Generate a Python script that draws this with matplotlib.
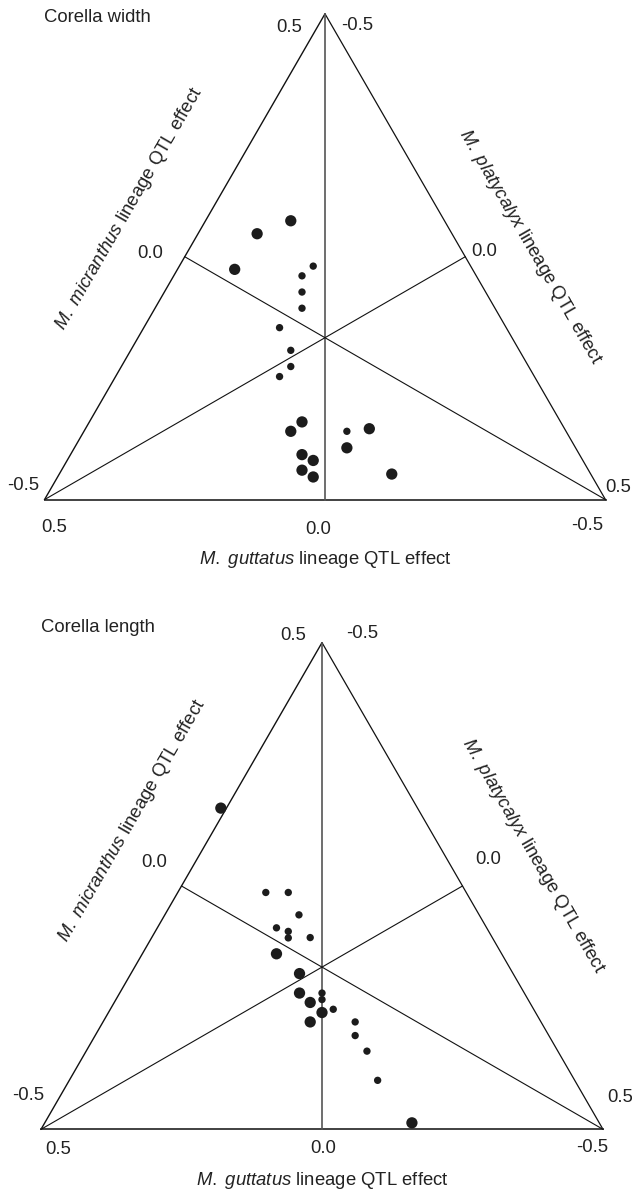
import matplotlib
matplotlib.use("Agg")
import numpy as np
import matplotlib.pyplot as plt

plt.rcParams['font.family'] = ['Liberation Sans', 'DejaVu Sans']
plt.rcParams['mathtext.fontset'] = 'custom'
plt.rcParams['mathtext.rm'] = 'Liberation Sans'
plt.rcParams['mathtext.it'] = 'Liberation Sans:italic'

# ---------------- data (QTL effects) ----------------
# Corella width
width_guttatus   = [0.061, 0.121, 0.161, 0.041, 0.061, -0.079, -0.039, 0.041, 0.021, 0.041, 0.021, -0.119,
                    0.021, 0.041, 0.041, 0.041, 0.081, 0.061, 0.061, 0.081, -0.039]
width_micranthus = [0.150, 0.100, 0.025, -0.150, -0.175, -0.101, -0.151, -0.201, -0.200, -0.225, -0.225, -0.151,
                    0.100, 0.075, 0.050, 0.025, -0.025, -0.050, -0.075, -0.100, -0.125]
width_platycalyx = [-0.211, -0.221, -0.186, 0.110, 0.114, 0.180, 0.189, 0.160, 0.179, 0.184, 0.205, 0.270,
                    -0.121, -0.116, -0.091, -0.066, -0.056, -0.011, 0.014, 0.020, 0.164]
width_class      = ['L'] * 12 + ['S'] * 9

# Corella length
length_guttatus   = [0.180, 0.081, 0.040, 0.040, 0.021, 0.000, 0.021, -0.160,
                     0.100, 0.060, 0.041, 0.081, 0.060, 0.060, 0.021, 0.000, 0.000, -0.020, -0.059, -0.059, -0.080, -0.099]
length_micranthus = [0.155, -0.020, -0.030, -0.060, -0.065, -0.070, -0.095, -0.160,
                     0.065, 0.085, 0.060, 0.020, 0.025, 0.015, 0.035, -0.040, -0.050, -0.055, -0.055, -0.076, -0.090, -0.125]
length_platycalyx = [-0.335, -0.061, -0.010, 0.020, 0.044, 0.070, 0.074, 0.320,
                     -0.165, -0.145, -0.101, -0.101, -0.085, -0.075, -0.056, 0.040, 0.050, 0.075, 0.114, 0.135, 0.169, 0.224]
length_class      = ['L'] * 8 + ['S'] * 14

panel_titles = ["Corella width", "Corella length"]
axis_ticks = ["0.5", "0.0", "-0.5"]
lab_gutt = r"$\it{M.\ guttatus}$ lineage QTL effect"
lab_micr = r"$\it{M.\ micranthus}$ lineage QTL effect"
lab_plat = r"$\it{M.\ platycalyx}$ lineage QTL effect"

# ---------------- layout ----------------
W, H = 632, 1197
FS = 13.3
fig = plt.figure(figsize=(W / 100, H / 100), dpi=100)

SQ3 = np.sqrt(3.0)
hgt = SQ3 / 2
T = (0.0, 2 * hgt / 3)
L = (-0.5, -hgt / 3)
R = (0.5, -hgt / 3)


def panel(top_px, bot_px, cx, cy, s, g, m, p, cls, title, tpos):
    ax = fig.add_axes([0, 1 - bot_px / H, 1, (bot_px - top_px) / H])
    ax.set_xlim((0 - cx) / s, (W - cx) / s)
    ax.set_ylim((cy - bot_px) / s, (cy - top_px) / s)
    ax.axis('off')

    def d(px, py):
        return ((px - cx) / s, (cy - py) / s)

    # triangle outline
    ax.plot([L[0], T[0]], [L[1], T[1]], color='#111111', lw=1.0, solid_capstyle='round')
    ax.plot([T[0], R[0]], [T[1], R[1]], color='#111111', lw=0.9, solid_capstyle='round')
    ax.plot([L[0], R[0]], [L[1], R[1]], color='#333333', lw=1.3)
    # medians
    ax.plot([T[0], 0.0], [T[1], -hgt / 3], color='#555555', lw=1.2)
    ax.plot([L[0], 0.25], [L[1], hgt / 6], color='#111111', lw=0.8)
    ax.plot([R[0], -0.25], [R[1], hgt / 6], color='#111111', lw=0.8)

    g = np.asarray(g); m = np.asarray(m); p = np.asarray(p)
    x = -g
    y = (m - p) / SQ3
    sizes = np.array([66 if c == 'L' else 28 for c in cls])
    ax.scatter(x, y, s=sizes, color='#1c1c1c', linewidths=0, zorder=5, clip_on=False)

    kw = dict(fontsize=FS, color='#222222', ha='center', va='center', clip_on=False)
    ax.text(*d(*tpos['title']), title, fontsize=FS, color='#222222', ha='left', va='center')
    ax.text(*d(*tpos['top_l']), axis_ticks[0], **kw)
    ax.text(*d(*tpos['top_r']), axis_ticks[2], **kw)
    ax.text(*d(*tpos['mid_l']), axis_ticks[1], **kw)
    ax.text(*d(*tpos['mid_r']), axis_ticks[1], **kw)
    ax.text(*d(*tpos['bl_up']), axis_ticks[2], **kw)
    ax.text(*d(*tpos['bl_dn']), axis_ticks[0], **kw)
    ax.text(*d(*tpos['br_up']), axis_ticks[0], **kw)
    ax.text(*d(*tpos['br_dn']), axis_ticks[2], **kw)
    ax.text(*d(*tpos['bot_c']), axis_ticks[1], **kw)
    ax.text(*d(*tpos['gutt']), lab_gutt, **kw)
    ax.text(*d(*tpos['micr']), lab_micr, rotation=60, rotation_mode='anchor', **kw)
    ax.text(*d(*tpos['plat']), lab_plat, rotation=-60, rotation_mode='anchor', **kw)


pos1 = dict(title=(44, 17), top_l=(289, 27), top_r=(357.5, 25.5), mid_l=(150, 253), mid_r=(484, 251),
            bl_up=(23, 485), bl_dn=(54, 528), br_up=(618.5, 488), br_dn=(587.5, 525), bot_c=(318, 529),
            gutt=(325, 559), micr=(129.5, 209), plat=(530.5, 247))
pos2 = dict(title=(41, 628), top_l=(293.5, 635.7), top_r=(362.5, 634), mid_l=(154, 862.5), mid_r=(488, 859.5),
            bl_up=(28, 1095), bl_dn=(58.3, 1150), br_up=(620, 1097), br_dn=(592, 1147), bot_c=(323, 1148.3),
            gutt=(322, 1180.7), micr=(132, 820.6), plat=(533.3, 855.7))

panel(0, 598, 325, 337.7, 561, width_guttatus, width_micranthus, width_platycalyx, width_class,
      panel_titles[0], pos1)
panel(598, 1197, 322, 967.1, 562, length_guttatus, length_micranthus, length_platycalyx, length_class,
      panel_titles[1], pos2)

fig.savefig("out.png", dpi=100, facecolor='white')
